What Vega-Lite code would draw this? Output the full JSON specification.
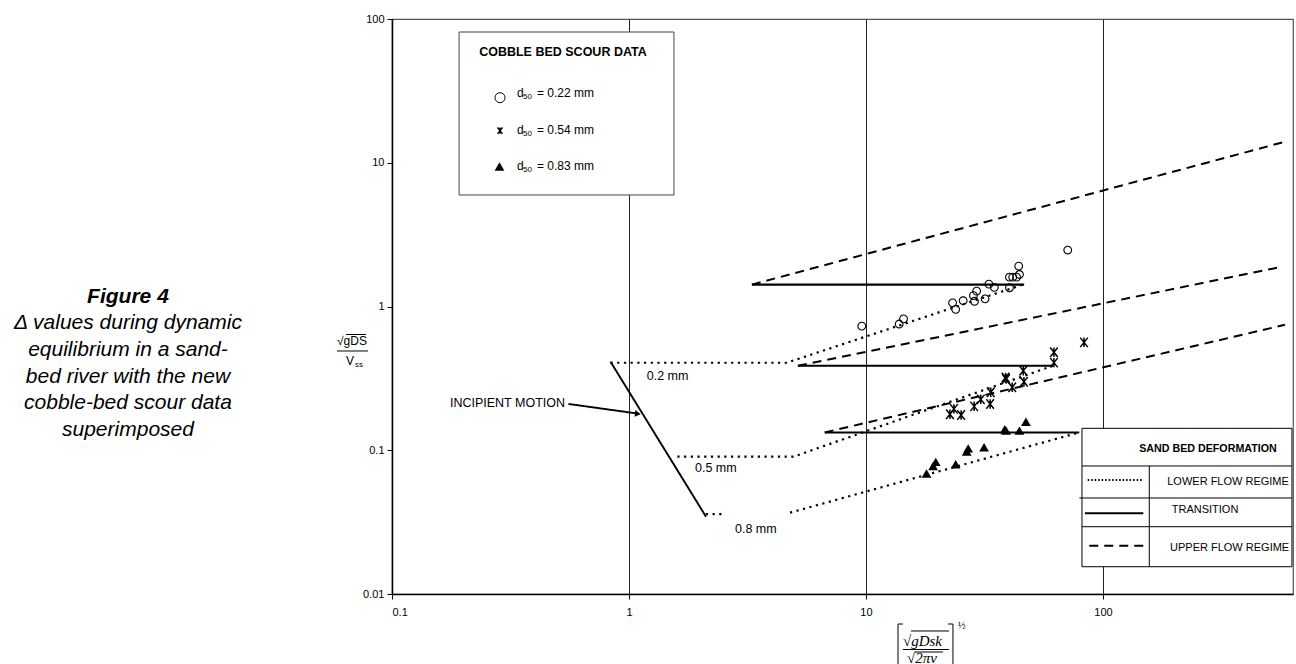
{
  "$schema": "https://vega.github.io/schema/vega-lite/v6.json",
  "width": 901,
  "height": 575,
  "autosize": "none",
  "padding": {"left": 392, "top": 19, "right": 3, "bottom": 70},
  "background": "white",
  "config": {
    "font": "Liberation Sans",
    "view": {"stroke": "#555", "strokeWidth": 1.2},
    "axis": {"labelFont": "Liberation Sans", "labelFontSize": 11, "labelColor": "#000", "domainColor": "#000", "tickColor": "#000", "domainWidth": 1.5, "tickSize": 5, "title": null}
  },
  "encoding": {
    "x": {"field": "x", "type": "quantitative", "scale": {"type": "log", "domain": [0.1, 633.5], "nice": false},
      "axis": {"values": [0.1, 1, 10, 100], "format": "~g", "grid": true, "gridColor": "#222", "gridWidth": 1, "labelPadding": 7, "title": null}},
    "y": {"field": "y", "type": "quantitative", "scale": {"type": "log", "domain": [0.01, 100], "nice": false},
      "axis": {"values": [0.01, 0.1, 1, 10, 100], "format": "~g", "grid": false, "labelPadding": 3, "title": null}}
  },
  "layer": [
    {
      "data": {"values": [
        {"id": "A", "s": "lower", "o": 0, "x": 0.8356, "y": 0.406},
        {"id": "A", "s": "lower", "o": 1, "x": 4.62, "y": 0.406},
        {"id": "A", "s": "lower", "o": 2, "x": 45.9, "y": 1.42},
        {"id": "B", "s": "transition", "o": 0, "x": 3.3, "y": 1.42},
        {"id": "B", "s": "transition", "o": 1, "x": 46.5, "y": 1.42},
        {"id": "C", "s": "upper", "o": 0, "x": 3.3, "y": 1.42},
        {"id": "C", "s": "upper", "o": 1, "x": 586, "y": 14.0},
        {"id": "D", "s": "lower", "o": 0, "x": 1.6, "y": 0.0902},
        {"id": "D", "s": "lower", "o": 1, "x": 4.94, "y": 0.0902},
        {"id": "D", "s": "lower", "o": 2, "x": 61.5, "y": 0.387},
        {"id": "E", "s": "transition", "o": 0, "x": 5.16, "y": 0.387},
        {"id": "E", "s": "transition", "o": 1, "x": 61.5, "y": 0.387},
        {"id": "F", "s": "upper", "o": 0, "x": 5.16, "y": 0.387},
        {"id": "F", "s": "upper", "o": 1, "x": 569, "y": 1.89},
        {"id": "G1", "s": "lower", "o": 0, "x": 2.11, "y": 0.036},
        {"id": "G1", "s": "lower", "o": 1, "x": 2.46, "y": 0.036},
        {"id": "G2", "s": "lower", "o": 0, "x": 4.78, "y": 0.0368},
        {"id": "G2", "s": "lower", "o": 1, "x": 79.4, "y": 0.133},
        {"id": "H", "s": "transition", "o": 0, "x": 6.7, "y": 0.133},
        {"id": "H", "s": "transition", "o": 1, "x": 79.4, "y": 0.133},
        {"id": "I", "s": "upper", "o": 0, "x": 6.7, "y": 0.133},
        {"id": "I", "s": "upper", "o": 1, "x": 586, "y": 0.746},
        {"id": "J", "s": "thin", "o": 0, "x": 0.8356, "y": 0.413},
        {"id": "J", "s": "thin", "o": 1, "x": 2.113, "y": 0.0345},
        {"id": "K", "s": "thin", "o": 0, "x": 0.555, "y": 0.21},
        {"id": "K", "s": "thin", "o": 1, "x": 1.1, "y": 0.1795}
      ]},
      "mark": {"type": "line", "color": "#000", "strokeCap": "butt"},
      "encoding": {
        "detail": {"field": "id"},
        "order": {"field": "o", "type": "quantitative"},
        "strokeDash": {"field": "s", "type": "nominal", "scale": {"domain": ["lower", "transition", "upper", "thin", "ldot"], "range": [[2.2, 4.5], [1, 0], [9, 6], [1, 0], [1.5, 2]]}, "legend": null},
        "strokeWidth": {"field": "s", "type": "nominal", "scale": {"domain": ["lower", "transition", "upper", "thin", "ldot"], "range": [2.2, 1.8, 1.7, 1, 1.5]}, "legend": null}
      }
    },
    {
      "data": {"values": [{"x": 1.09, "y": 0.1795}]},
      "mark": {"type": "point", "shape": "triangle-right", "angle": 8, "size": 45, "filled": true, "color": "#000", "opacity": 1}
    },
    {
      "data": {"values": [
        {"x": 9.6, "y": 0.73}, {"x": 13.8, "y": 0.755}, {"x": 14.4, "y": 0.82}, {"x": 23.2, "y": 1.06},
        {"x": 23.9, "y": 0.956}, {"x": 25.7, "y": 1.097}, {"x": 28.4, "y": 1.19}, {"x": 28.7, "y": 1.087},
        {"x": 29.3, "y": 1.28}, {"x": 31.8, "y": 1.13}, {"x": 33.0, "y": 1.43}, {"x": 34.8, "y": 1.36},
        {"x": 40.3, "y": 1.35}, {"x": 40.3, "y": 1.6}, {"x": 41.6, "y": 1.6}, {"x": 43.2, "y": 1.6},
        {"x": 44.4, "y": 1.67}, {"x": 44.1, "y": 1.91}, {"x": 71, "y": 2.47}
      ]},
      "mark": {"type": "point", "shape": "circle", "size": 60, "filled": false, "stroke": "#000", "strokeWidth": 1.1, "opacity": 1}
    },
    {
      "data": {"values": [
        {"x": 22.6, "y": 0.178}, {"x": 23.5, "y": 0.194}, {"x": 25.2, "y": 0.176}, {"x": 28.6, "y": 0.202},
        {"x": 30.5, "y": 0.226}, {"x": 33.4, "y": 0.21}, {"x": 33.6, "y": 0.253}, {"x": 38.8, "y": 0.321},
        {"x": 39.0, "y": 0.313}, {"x": 41.4, "y": 0.274}, {"x": 46.1, "y": 0.357}, {"x": 46.4, "y": 0.3},
        {"x": 62.1, "y": 0.48}, {"x": 62.1, "y": 0.407}, {"x": 83.2, "y": 0.563}
      ]},
      "mark": {"type": "point", "shape": "M-0.8,-1L0.8,1M-0.8,1L0.8,-1M0,-1L0,1", "size": 90, "filled": false, "stroke": "#000", "strokeWidth": 1.5, "opacity": 1}
    },
    {
      "data": {"values": [
        {"x": 18.0, "y": 0.069}, {"x": 19.2, "y": 0.0776}, {"x": 19.7, "y": 0.083}, {"x": 23.9, "y": 0.08},
        {"x": 26.6, "y": 0.098}, {"x": 27.0, "y": 0.103}, {"x": 31.5, "y": 0.105}, {"x": 38.5, "y": 0.14},
        {"x": 39.0, "y": 0.137}, {"x": 44.4, "y": 0.137}, {"x": 47.3, "y": 0.158}
      ]},
      "mark": {"type": "point", "shape": "triangle-up", "size": 95, "filled": true, "color": "#000", "opacity": 1}
    },
    {
      "data": {"values": [{"x": 0.1919, "x2": 1.548, "y": 81.2, "y2": 5.967}]},
      "mark": {"type": "rect", "fill": "white", "stroke": "#444", "strokeWidth": 1},
      "encoding": {"x2": {"field": "x2"}, "y2": {"field": "y2"}}
    },
    {
      "data": {"values": [{"x": 0.5265, "y": 58.95, "t": "COBBLE BED SCOUR DATA"}]},
      "mark": {"type": "text", "font": "Liberation Sans", "fontWeight": "bold", "fontSize": 12.5, "align": "center", "baseline": "middle", "color": "#000"},
      "encoding": {"text": {"field": "t"}}
    },
    {
      "data": {"values": [{"x": 0.2856, "y": 28.35}]},
      "mark": {"type": "point", "shape": "circle", "size": 100, "filled": false, "stroke": "#000", "strokeWidth": 1, "opacity": 1}
    },
    {
      "data": {"values": [{"x": 0.2856, "y": 16.71}]},
      "mark": {"type": "point", "shape": "M-0.8,-1L0.8,1M-0.8,1L0.8,-1M0,-1L0,1", "size": 40, "filled": false, "stroke": "#000", "strokeWidth": 1.4, "opacity": 1}
    },
    {
      "data": {"values": [{"x": 0.2842, "y": 9.417}]},
      "mark": {"type": "point", "shape": "triangle-up", "size": 95, "filled": true, "color": "#000", "opacity": 1}
    },
    {
      "data": {"values": [
        {"x": 0.3368, "y": 30.41, "t": "d"}, {"x": 0.3368, "y": 16.9, "t": "d"}, {"x": 0.3368, "y": 9.539, "t": "d"}
      ]},
      "mark": {"type": "text", "font": "Liberation Sans", "fontSize": 12, "align": "left", "baseline": "middle", "color": "#000"},
      "encoding": {"text": {"field": "t"}}
    },
    {
      "data": {"values": [
        {"x": 0.357, "y": 28.53, "t": "50"}, {"x": 0.357, "y": 15.85, "t": "50"}, {"x": 0.357, "y": 8.948, "t": "50"}
      ]},
      "mark": {"type": "text", "font": "Liberation Sans", "fontSize": 8, "align": "left", "baseline": "middle", "color": "#000"},
      "encoding": {"text": {"field": "t"}}
    },
    {
      "data": {"values": [
        {"x": 0.409, "y": 30.41, "t": "= 0.22 mm"}, {"x": 0.409, "y": 16.9, "t": "= 0.54 mm"}, {"x": 0.409, "y": 9.539, "t": "= 0.83 mm"}
      ]},
      "mark": {"type": "text", "font": "Liberation Sans", "fontSize": 12, "align": "left", "baseline": "middle", "color": "#000"},
      "encoding": {"text": {"field": "t"}}
    },
    {
      "data": {"values": [{"x": 81.54, "x2": 627, "y": 0.1421, "y2": 0.01548}]},
      "mark": {"type": "rect", "fill": "white", "stroke": "#000", "strokeWidth": 1},
      "encoding": {"x2": {"field": "x2"}, "y2": {"field": "y2"}}
    },
    {
      "data": {"values": [
        {"x": 81.54, "x2": 627, "y": 0.07773}, {"x": 79.5, "x2": 627, "y": 0.04654}, {"x": 81.54, "x2": 627, "y": 0.02938}
      ]},
      "mark": {"type": "rule", "color": "#000", "strokeWidth": 1},
      "encoding": {"x2": {"field": "x2"}}
    },
    {
      "data": {"values": [{"x": 156.8, "y": 0.07773, "y2": 0.01548}]},
      "mark": {"type": "rule", "color": "#000", "strokeWidth": 1},
      "encoding": {"y2": {"field": "y2"}}
    },
    {
      "data": {"values": [{"x": 277.3, "y": 0.1015, "t": "SAND BED DEFORMATION"}]},
      "mark": {"type": "text", "font": "Liberation Sans", "fontWeight": "bold", "fontSize": 10.7, "align": "center", "baseline": "middle", "color": "#000"},
      "encoding": {"text": {"field": "t"}}
    },
    {
      "data": {"values": [
        {"x": 86.17, "x2": 145.6, "y": 0.06209, "s": "ldot"},
        {"x": 83.9, "x2": 148.0, "y": 0.03641, "s": "transition"},
        {"x": 87.53, "x2": 148.0, "y": 0.02168, "s": "upper"}
      ]},
      "mark": {"type": "rule", "color": "#000", "strokeCap": "butt"},
      "encoding": {
        "x2": {"field": "x2"},
        "strokeDash": {"field": "s", "type": "nominal", "scale": {"domain": ["lower", "transition", "upper", "thin", "ldot"], "range": [[2.2, 4.5], [1, 0], [9, 6], [1, 0], [1.5, 2]]}, "legend": null},
        "strokeWidth": {"field": "s", "type": "nominal", "scale": {"domain": ["lower", "transition", "upper", "thin", "ldot"], "range": [2.2, 1.8, 1.7, 1, 1.5]}, "legend": null}
      }
    },
    {
      "data": {"values": [
        {"x": 186.7, "y": 0.06043, "t": "LOWER FLOW REGIME"},
        {"x": 195.0, "y": 0.0384, "t": "TRANSITION"},
        {"x": 191.8, "y": 0.02079, "t": "UPPER FLOW REGIME"}
      ]},
      "mark": {"type": "text", "font": "Liberation Sans", "fontSize": 11, "align": "left", "baseline": "middle", "color": "#000"},
      "encoding": {"text": {"field": "t"}}
    },
    {
      "data": {"values": [
        {"x": 1.188, "y": 0.3285, "t": "0.2 mm"},
        {"x": 1.899, "y": 0.07487, "t": "0.5 mm"},
        {"x": 2.801, "y": 0.02819, "t": "0.8 mm"}
      ]},
      "mark": {"type": "text", "font": "Liberation Sans", "fontSize": 12.5, "align": "left", "baseline": "middle", "color": "#000"},
      "encoding": {"text": {"field": "t"}}
    },
    {
      "data": {"values": [{"x": 0.537, "y": 0.2122, "t": "INCIPIENT MOTION"}]},
      "mark": {"type": "text", "font": "Liberation Sans", "fontSize": 12.5, "align": "right", "baseline": "middle", "color": "#000"},
      "encoding": {"text": {"field": "t"}}
    },
    {
      "data": {"values": [{"x": 0.00769, "y": 1.164, "t": "Figure 4"}]},
      "mark": {"type": "text", "font": "Liberation Sans", "fontSize": 21, "fontWeight": "bold", "fontStyle": "italic", "align": "center", "baseline": "middle", "color": "#000"},
      "encoding": {"text": {"field": "t"}}
    },
    {
      "data": {"values": [
        {"x": 0.00769, "y": 0.7641, "t": "Δ values during dynamic"},
        {"x": 0.00769, "y": 0.4982, "t": "equilibrium in a sand-"},
        {"x": 0.00769, "y": 0.3248, "t": "bed river with the new"},
        {"x": 0.00769, "y": 0.2122, "t": "cobble-bed scour data"},
        {"x": 0.00769, "y": 0.1383, "t": "superimposed"}
      ]},
      "mark": {"type": "text", "font": "Liberation Sans", "fontSize": 21, "fontStyle": "italic", "align": "center", "baseline": "middle", "color": "#000"},
      "encoding": {"text": {"field": "t"}}
    },
    {
      "data": {"values": [{"x": 0.06779, "y": 0.5754, "t": "√gDS"}, {"x": 0.06649, "y": 0.4144, "t": "V"}]},
      "mark": {"type": "text", "font": "Liberation Sans", "fontSize": 12, "align": "center", "baseline": "middle", "color": "#000"},
      "encoding": {"text": {"field": "t"}}
    },
    {
      "data": {"values": [{"x": 0.06981, "y": 0.3918, "t": "ss"}]},
      "mark": {"type": "text", "font": "Liberation Sans", "fontSize": 8, "align": "left", "baseline": "middle", "color": "#000"},
      "encoding": {"text": {"field": "t"}}
    },
    {
      "data": {"values": [
        {"x": 0.06394, "x2": 0.0777, "y": 0.6385},
        {"x": 0.05859, "x2": 0.0792, "y": 0.4903},
        {"x": 15.48, "x2": 22.4, "y": 0.005529},
        {"x": 14.32, "x2": 22.4, "y": 0.004111},
        {"x": 16.1, "x2": 21.13, "y": 0.003949},
        {"x": 13.65, "x2": 14.32, "y": 0.006183},
        {"x": 22.18, "x2": 23.28, "y": 0.006183}
      ]},
      "mark": {"type": "rule", "color": "#000", "strokeWidth": 1},
      "encoding": {"x2": {"field": "x2"}}
    },
    {
      "data": {"values": [
        {"x": 13.65, "y": 0.006183, "y2": 0.002961},
        {"x": 23.28, "y": 0.006183, "y2": 0.002961}
      ]},
      "mark": {"type": "rule", "color": "#000", "strokeWidth": 1},
      "encoding": {"y2": {"field": "y2"}}
    },
    {
      "data": {"values": [{"x": 14.32, "y": 0.004748, "t": "√gDsk"}, {"x": 14.89, "y": 0.003587, "t": "√2πν"}]},
      "mark": {"type": "text", "font": "Liberation Serif", "fontSize": 15, "fontStyle": "italic", "align": "left", "baseline": "middle", "color": "#000"},
      "encoding": {"text": {"field": "t"}}
    },
    {
      "data": {"values": [{"x": 24.45, "y": 0.005991, "t": "½"}]},
      "mark": {"type": "text", "font": "Liberation Serif", "fontSize": 10, "align": "left", "baseline": "middle", "color": "#000"},
      "encoding": {"text": {"field": "t"}}
    }
  ]
}
